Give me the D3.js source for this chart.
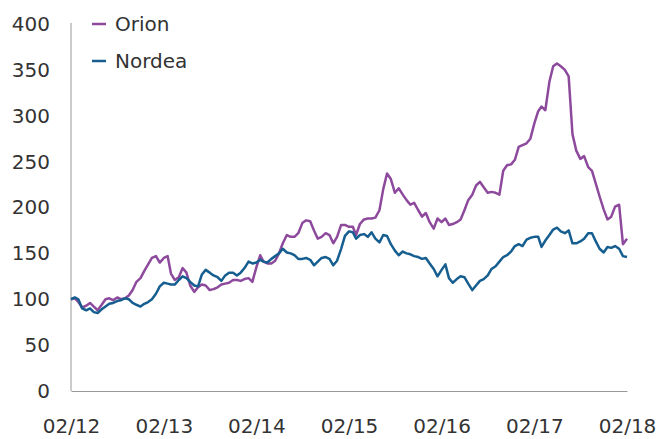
<!DOCTYPE html>
<html>
<head>
<meta charset="utf-8">
<script src="https://cdn.jsdelivr.net/npm/d3@7"></script>
<style>
  body { margin: 0; background: #fff; }
  .axis text { font-family: "DejaVu Sans", sans-serif; font-size: 20px; fill: #333; }
  .axis path { stroke: #999; }
  .legend text { font-family: "DejaVu Sans", sans-serif; font-size: 20px; fill: #333; }
</style>
</head>
<body>
<div id="chart"></div>
<script>
const WIDTH = 658;
const HEIGHT = 439;

// semi-monthly readings, 1st and 16th of each month, Feb 2012 .. Feb 2018
const START = "2012-02-01";
const orion = [
  100, 101, 97, 91, 93, 96, 92, 88, 94, 100, 101, 99, 102, 100, 101, 104,
  110, 119, 123, 131, 138, 145, 147, 140, 145, 147, 128, 121, 124, 134, 129, 115,
  108, 113, 116, 115, 110, 111, 113, 116, 117, 118, 121, 121, 120, 122, 123, 119,
  135, 148, 141, 139, 139, 142, 150, 161, 170, 168, 168, 172, 183, 186, 185, 175,
  166, 168, 172, 170, 161, 168, 181, 181, 179, 179, 170, 182, 187, 188, 188, 189,
  197, 220, 237, 231, 216, 221, 214, 208, 203, 205, 197, 190, 194, 184, 177, 188,
  184, 188, 181, 182, 184, 187, 197, 208, 214, 224, 228, 222, 216, 217, 216, 214,
  240, 246, 247, 252, 266, 268, 270, 275, 292, 305, 310, 306, 337, 354, 357, 354,
  350, 343, 280, 262, 253, 256, 244, 240, 226, 212, 198, 187, 190, 201, 203, 160,
  166
];
const nordea = [
  100, 102, 100, 90, 88, 90, 86, 85, 89, 92, 95, 96, 98, 99, 101, 100,
  96, 94, 92, 95, 97, 100, 106, 114, 118, 117, 116, 116, 121, 125, 123, 119,
  115, 114, 127, 132, 129, 126, 124, 120, 126, 129, 129, 126, 129, 134, 141, 139,
  140, 143, 141, 140, 144, 147, 150, 155, 151, 150, 148, 144, 144, 145, 143, 137,
  141, 145, 146, 144, 137, 142, 155, 169, 174, 173, 166, 170, 171, 168, 173, 166,
  162, 170, 169, 160, 153, 148, 152, 150, 149, 147, 146, 144, 145, 139, 133, 125,
  132, 138, 123, 118, 122, 125, 124, 117, 110, 115, 120, 122, 126, 133, 136, 141,
  146, 148, 152, 158, 160, 158, 165, 167, 168, 168, 157, 164, 170, 176, 178, 174,
  172, 175, 161, 161, 163, 166, 172, 172, 163, 155, 151, 157, 156, 158, 155, 147,
  146
];
const seriesNames = ["Orion", "Nordea"];
const seriesColors = ["#8d4a9c", "#165e8f"];
const yTicks = [0, 50, 100, 150, 200, 250, 300, 350, 400];
const xTickLabels = ["02/12", "02/13", "02/14", "02/15", "02/16", "02/17", "02/18"];

const parseDate = d3.timeParse("%Y-%m-%d");
const start = parseDate(START);
const dates = orion.map(function (d, i) {
  const m = d3.timeMonth.offset(start, Math.floor(i / 2));
  return i % 2 ? d3.timeDay.offset(m, 15) : m;
});
const xTickDates = xTickLabels.map(function (s) {
  return parseDate("20" + s.slice(3) + "-" + s.slice(0, 2) + "-01");
});

const svg = d3.select("#chart").append("svg")
  .attr("width", WIDTH)
  .attr("height", HEIGHT);

const x = d3.scaleTime()
  .domain([xTickDates[0], xTickDates[xTickDates.length - 1]])
  .range([71, 627]);
const y = d3.scaleLinear()
  .domain([0, 400])
  .range([391, 24]);

svg.append("g")
  .attr("class", "axis")
  .attr("transform", "translate(71,0)")
  .call(d3.axisLeft(y).tickValues(yTicks).tickSize(0).tickPadding(21))
  .call(function (g) { g.select(".domain").attr("d", "M0,391V23"); });

svg.append("g")
  .attr("class", "axis")
  .attr("transform", "translate(0,391)")
  .call(d3.axisBottom(x).tickValues(xTickDates).tickSize(0).tickPadding(28)
    .tickFormat(function (d, i) { return xTickLabels[i]; }));

const line = d3.line()
  .x(function (d, i) { return x(dates[i]); })
  .y(function (d) { return y(d); });

[orion, nordea].forEach(function (vals, k) {
  svg.append("path")
    .attr("d", line(vals))
    .attr("fill", "none")
    .attr("stroke", seriesColors[k])
    .attr("stroke-width", 2.5)
    .attr("stroke-linejoin", "round");
});

const legend = svg.append("g").attr("class", "legend");
seriesNames.forEach(function (name, k) {
  const ly = 24 + k * 37;
  legend.append("line")
    .attr("x1", 92).attr("x2", 106)
    .attr("y1", ly).attr("y2", ly)
    .attr("stroke", seriesColors[k])
    .attr("stroke-width", 2.5);
  legend.append("text")
    .attr("x", 115).attr("y", ly)
    .attr("dy", "0.36em")
    .text(name);
});
</script>
</body>
</html>
